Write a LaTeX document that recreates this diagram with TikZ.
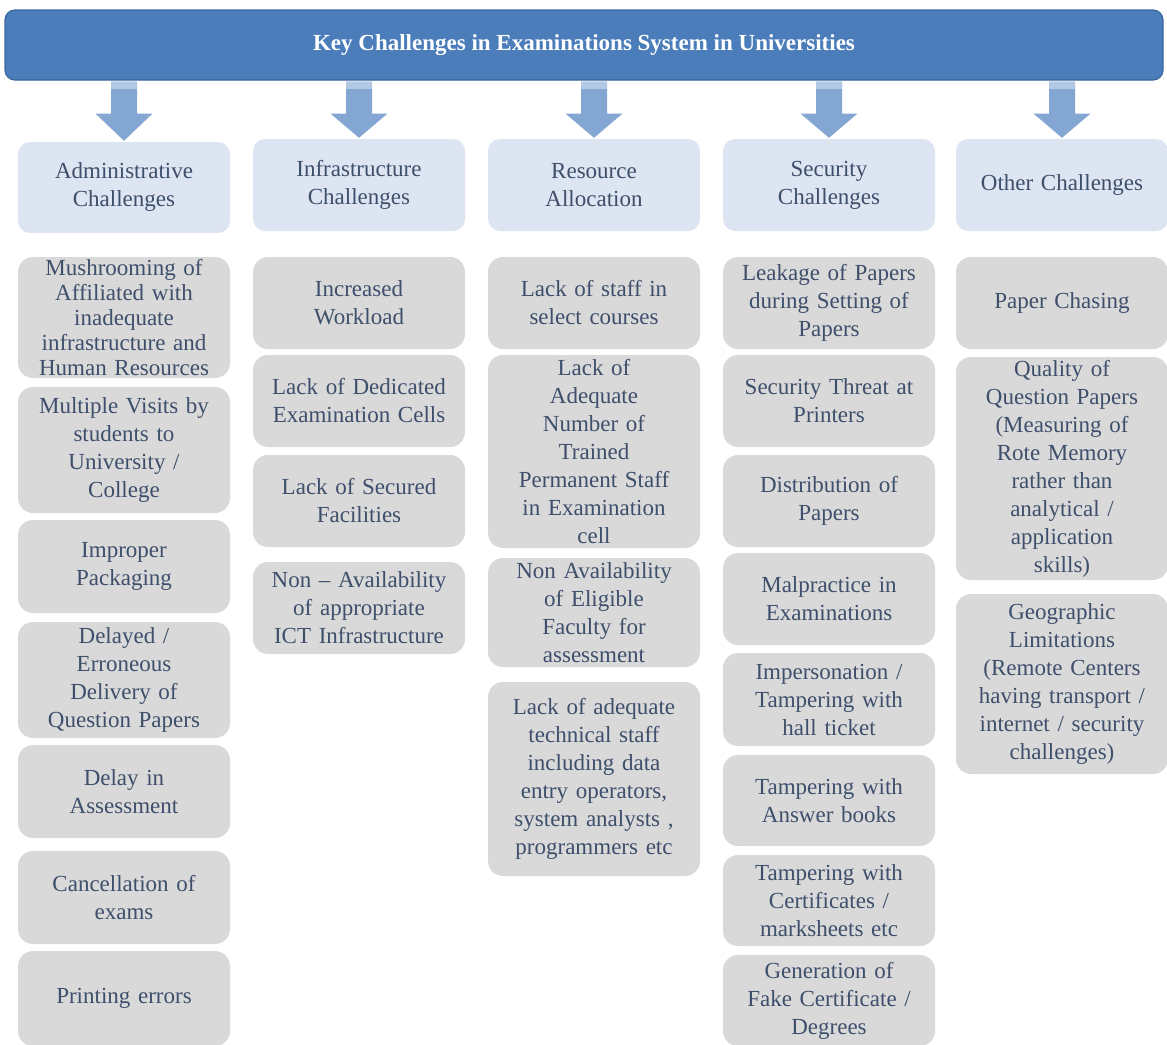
\documentclass[tikz,border=0pt]{standalone}
\usepackage{fontspec}
\setmainfont{Liberation Serif}
\usetikzlibrary{calc}

\definecolor{barblue}{HTML}{4A7DBA}
\definecolor{barline}{HTML}{3A669E}
\definecolor{arrowblue}{HTML}{84A6D3}
\definecolor{arrowpale}{HTML}{B3C8E5}
\definecolor{headfill}{HTML}{DCE5F1}
\definecolor{itemfill}{HTML}{D9D9D9}
\definecolor{inktext}{HTML}{3E4F6C}

\tikzset{
  titlebar/.style={rectangle, rounded corners=10pt, fill=barblue, draw=barline, line width=1.2pt,
    minimum width=1158pt, minimum height=70pt, text=white,
    font=\fontsize{23}{28}\selectfont\bfseries},
  headbox/.style={rectangle, rounded corners=12pt, fill=headfill, text=inktext,
    text width=204pt, inner xsep=4pt, inner ysep=1pt, align=center, minimum height=92pt,
    font=\fontsize{23}{28}\selectfont},
  itembox/.style={rectangle, rounded corners=15pt, fill=itemfill, text=inktext,
    text width=204pt, inner xsep=4pt, inner ysep=0pt, align=center, minimum height=92pt,
    font=\fontsize{23}{28}\selectfont},
  flow/.style={fill=arrowblue, draw=none},
  flowtop/.style={fill=arrowpale, draw=none}
}

\begin{document}
\begin{tikzpicture}[x=1pt, y=-1pt]
\useasboundingbox (0,0) rectangle (1167,1044);

% heading bar
\node[titlebar] (title) at (584,45) {Key Challenges in Examinations System in Universities};

% category headers
\node[headbox, minimum height=91pt] (h1) at (124,187.5) {Administrative\\Challenges};
\node[headbox] (h2) at (359,185) {Infrastructure\\Challenges};
\node[headbox] (h3) at (594,185) {Resource\\Allocation};
\node[headbox] (h4) at (829,185) {Security\\Challenges};
\node[headbox] (h5) at (1062,185) {Other Challenges};

% block arrows from the heading bar to each header
\foreach \h in {h1,h2,h3,h4,h5}{
  \path[flow] let \p1=(\h.north), \p2=(title.south) in
    (\x1-13pt,\y2-1pt) -- (\x1+13pt,\y2-1pt) -- (\x1+13pt,\y2-33pt) -- (\x1+28.5pt,\y2-33pt)
    -- (\x1,\y1+1pt) -- (\x1-28.5pt,\y2-33pt) -- (\x1-13pt,\y2-33pt) -- cycle;
  \path[flowtop] let \p1=(\h.north), \p2=(title.south) in
    (\x1-13pt,\y2-1pt) rectangle (\x1+13pt,\y2-8pt);
}

% administrative challenges
\node[itembox, minimum height=121pt, font=\fontsize{23}{25}\selectfont] (a1) at (124,317.5)
  {Mushrooming of\\Affiliated with\\inadequate\\infrastructure and\\Human Resources};
\node[itembox, minimum height=126pt] (a2) at (124,450) {Multiple Visits by\\students to\\University /\\College};
\node[itembox, minimum height=93pt] (a3) at (124,566.5) {Improper\\Packaging};
\node[itembox, minimum height=116pt] (a4) at (124,680) {Delayed /\\Erroneous\\Delivery of\\Question Papers};
\node[itembox, minimum height=93pt] (a5) at (124,791.5) {Delay in\\Assessment};
\node[itembox, minimum height=93pt] (a6) at (124,897.5) {Cancellation of\\exams};
\node[itembox, minimum height=95pt] (a7) at (124,998.5) {Printing errors};

% infrastructure challenges
\node[itembox] (b1) at (359,303) {Increased\\Workload};
\node[itembox] (b2) at (359,401) {Lack of Dedicated\\Examination Cells};
\node[itembox] (b3) at (359,501) {Lack of Secured\\Facilities};
\node[itembox] (b4) at (359,608) {Non – Availability\\of appropriate\\ICT Infrastructure};

% resource allocation
\node[itembox] (c1) at (594,303) {Lack of staff in\\select courses};
\node[itembox, minimum height=193pt] (c2) at (594,451.5)
  {Lack of\\Adequate\\Number of\\Trained\\Permanent Staff\\in Examination\\cell};
\node[itembox, minimum height=109pt] (c3) at (594,612.5)
  {Non Availability\\of Eligible\\Faculty for\\assessment};
\node[itembox, minimum height=194pt] (c4) at (594,779)
  {Lack of adequate\\technical staff\\including data\\entry operators,\\system analysts ,\\programmers etc};

% security challenges
\node[itembox] (d1) at (829,303) {Leakage of Papers\\during Setting of\\Papers};
\node[itembox] (d2) at (829,401) {Security Threat at\\Printers};
\node[itembox] (d3) at (829,501) {Distribution of\\Papers};
\node[itembox] (d4) at (829,599) {Malpractice in\\Examinations};
\node[itembox, minimum height=93pt] (d5) at (829,699.5) {Impersonation /\\Tampering with\\hall ticket};
\node[itembox, minimum height=91pt] (d6) at (829,800.5) {Tampering with\\Answer books};
\node[itembox, minimum height=91pt] (d7) at (829,900.5) {Tampering with\\Certificates /\\marksheets etc};
\node[itembox, minimum height=91pt] (d8) at (829,1000.5) {Generation of\\Fake Certificate /\\Degrees};

% other challenges
\node[itembox] (e1) at (1062,303) {Paper Chasing};
\node[itembox, minimum height=223pt] (e2) at (1062,468.5)
  {Quality of\\Question Papers\\(Measuring of\\Rote Memory\\rather than\\analytical /\\application\\skills)};
\node[itembox, minimum height=180pt] (e3) at (1062,684)
  {Geographic\\Limitations\\(Remote Centers\\having transport /\\internet / security\\challenges)};
\end{tikzpicture}
\end{document}
